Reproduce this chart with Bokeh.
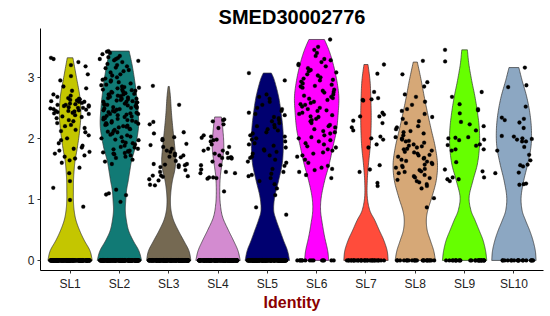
import numpy as np
from bokeh.plotting import figure
from bokeh.models import FixedTicker
from bokeh.embed import file_html
from bokeh.resources import INLINE

# ---------------- data ----------------
clusters = ["SL1", "SL2", "SL3", "SL4", "SL5", "SL6", "SL7", "SL8", "SL9", "SL10"]
fill_colors = ["#C4C600", "#117A75", "#756952", "#D38BD0", "#000070",
               "#FF00FF", "#FF4C3B", "#D6A877", "#66FF00", "#8CA7C2"]

# violin outlines: expression level (y) and relative density at that level
sl1_ylev = [0, 0.16, 0.33, 0.49, 0.66, 0.82, 0.98, 1.15, 1.31, 1.48, 1.64, 1.86, 2.13, 2.40, 2.68, 3.00, 3.32]
sl1_dens = [22, 19.7, 14, 9.5, 5.8, 4, 3.3, 3.3, 3.4, 4, 5, 7.3, 9.5, 10.7, 9.7, 6.3, 2.8]
sl2_ylev = [0, 0.16, 0.33, 0.49, 0.66, 0.82, 0.98, 1.15, 1.31, 1.48, 1.64, 1.86, 2.19, 2.51, 2.84, 3.17, 3.43]
sl2_dens = [21.7, 19, 13.3, 9, 6.8, 5.8, 6.2, 7, 8.7, 10.3, 12, 15.5, 18.7, 18, 15.8, 12.8, 9.5]
sl3_ylev = [0, 0.16, 0.33, 0.49, 0.66, 0.82, 0.98, 1.15, 1.31, 1.48, 1.64, 1.86, 2.13, 2.40, 2.68, 2.85]
sl3_dens = [22, 20, 14.7, 9.5, 4.7, 2.3, 1.7, 2.3, 3.7, 6, 7, 6, 4.3, 2.8, 1.7, 0.6]
sl4_ylev = [0, 0.16, 0.33, 0.49, 0.71, 0.93, 1.15, 1.37, 1.58, 1.80, 1.97, 2.18, 2.35]
sl4_dens = [21.7, 19.5, 15, 10.3, 4.5, 2.2, 1.7, 2.2, 3.8, 5.5, 5.5, 4.5, 3.3]
sl5_ylev = [0, 0.16, 0.33, 0.49, 0.66, 0.82, 1.04, 1.31, 1.58, 1.86, 2.13, 2.40, 2.68, 2.95, 3.07]
sl5_dens = [22, 20, 16, 12.5, 8.8, 6.3, 7.3, 11.2, 14.7, 15.8, 15.5, 13.8, 11.2, 7, 4]
sl6_ylev = [0, 0.16, 0.38, 0.60, 0.82, 1.04, 1.31, 1.58, 1.86, 2.13, 2.40, 2.68, 2.95, 3.22, 3.44, 3.62]
sl6_dens = [11.7, 10.7, 7.8, 5.5, 3.8, 4.5, 7.8, 12.2, 15.8, 19.2, 20.8, 21.5, 19.5, 16, 12, 7.5]
sl7_ylev = [0, 0.16, 0.33, 0.49, 0.66, 0.82, 1.04, 1.31, 1.58, 1.86, 2.13, 2.40, 2.68, 2.95, 3.21]
sl7_dens = [22, 21, 17.7, 13.3, 8.7, 3.8, 1.3, 1.3, 2.5, 4.2, 5, 5.2, 4.8, 4, 2]
sl8_ylev = [0, 0.16, 0.33, 0.49, 0.66, 0.82, 1.04, 1.31, 1.58, 1.86, 2.13, 2.40, 2.68, 2.95, 3.25]
sl8_dens = [19.7, 18, 14.7, 11.7, 10.8, 12.2, 16.3, 20.5, 21.7, 19.5, 15.8, 12.2, 8.8, 5.8, 2]
sl9_ylev = [0, 0.16, 0.33, 0.49, 0.66, 0.82, 1.04, 1.31, 1.58, 1.86, 2.13, 2.40, 2.68, 2.95, 3.22, 3.45]
sl9_dens = [22, 20.8, 18.3, 14.5, 10.3, 6.3, 4.5, 8.3, 12.7, 14.7, 14.7, 13, 10.3, 7, 4.2, 2.8]
sl10_ylev = [0, 0.16, 0.33, 0.49, 0.66, 0.82, 1.04, 1.31, 1.58, 1.86, 2.13, 2.40, 2.68, 2.95, 3.16]
sl10_dens = [22.5, 21.7, 19.3, 16, 11.7, 8.3, 7.3, 10, 14, 17.3, 17.8, 16.3, 13, 8.3, 5]

# non-zero expression values of individual cells
sl1_expr = [3.32, 3.30, 3.25, 3.20, 3.18, 3.05, 3.02, 2.95, 2.85, 2.82, 2.78, 2.72, 2.70, 2.68, 2.66,
            2.65, 2.64, 2.63, 2.62, 2.61, 2.60, 2.60, 2.58, 2.57, 2.56, 2.55, 2.55, 2.54, 2.53, 2.52,
            2.51, 2.50, 2.50, 2.49, 2.48, 2.47, 2.46, 2.45, 2.45, 2.44, 2.43, 2.42, 2.41, 2.40, 2.38,
            2.36, 2.35, 2.33, 2.30, 2.28, 2.25, 2.22, 2.20, 2.17, 2.14, 2.12, 2.10, 2.05, 2.00, 1.97,
            1.92, 1.88, 1.85, 1.83, 1.80, 1.78, 1.75, 1.72, 1.70, 1.67, 1.64, 1.60, 1.52, 1.43, 1.30,
            1.19, 0.99, 0.88]
sl2_expr = [3.43, 3.42, 3.40, 3.38, 3.35, 3.33, 3.32, 3.30, 3.30, 3.28, 3.27, 3.25, 3.22, 3.20, 3.18,
            3.16, 3.15, 3.12, 3.10, 3.08, 3.05, 3.03, 3.00, 2.98, 2.96, 2.95, 2.93, 2.92, 2.90, 2.88,
            2.87, 2.85, 2.84, 2.83, 2.82, 2.80, 2.80, 2.79, 2.78, 2.77, 2.76, 2.75, 2.74, 2.73, 2.72,
            2.72, 2.71, 2.70, 2.69, 2.68, 2.67, 2.66, 2.65, 2.65, 2.64, 2.63, 2.62, 2.61, 2.60, 2.60,
            2.59, 2.58, 2.57, 2.56, 2.55, 2.55, 2.54, 2.53, 2.52, 2.51, 2.50, 2.50, 2.49, 2.48, 2.47,
            2.46, 2.45, 2.44, 2.43, 2.42, 2.41, 2.40, 2.40, 2.39, 2.38, 2.37, 2.36, 2.35, 2.34, 2.33,
            2.32, 2.31, 2.30, 2.29, 2.28, 2.27, 2.26, 2.25, 2.24, 2.23, 2.22, 2.21, 2.20, 2.19, 2.18,
            2.16, 2.15, 2.14, 2.12, 2.11, 2.10, 2.08, 2.06, 2.05, 2.03, 2.02, 2.00, 1.98, 1.97, 1.95,
            1.93, 1.92, 1.90, 1.88, 1.86, 1.85, 1.83, 1.82, 1.80, 1.79, 1.78, 1.77, 1.76, 1.75, 1.74,
            1.72, 1.70, 1.68, 1.65, 1.62, 1.58, 1.16, 1.10, 1.08, 1.07, 0.96]
sl3_expr = [2.86, 2.55, 2.27, 2.23, 2.10, 2.08, 2.02, 1.99, 1.97, 1.91, 1.89, 1.86, 1.83, 1.80, 1.78,
            1.75, 1.72, 1.72, 1.70, 1.69, 1.63, 1.58, 1.57, 1.56, 1.56, 1.53, 1.53, 1.58, 1.48, 1.45,
            1.39, 1.39, 1.38, 1.37, 1.33, 1.31, 1.24, 1.23]
sl4_expr = [2.31, 2.30, 2.28, 2.23, 2.17, 2.03, 2.01, 1.98, 1.97, 1.90, 1.86, 1.83, 1.80, 1.80, 1.76,
            1.75, 1.69, 1.69, 1.68, 1.68, 1.67, 1.62, 1.56, 1.56, 1.49, 1.45, 1.43, 1.43, 1.36, 1.36,
            1.35, 1.34, 1.13, 1.72, 1.95, 2.05]
sl5_expr = [3.07, 2.95, 2.72, 2.68, 2.65, 2.60, 2.55, 2.50, 2.48, 2.45, 2.42, 2.40, 2.38, 2.35, 2.33,
            2.30, 2.28, 2.25, 2.22, 2.20, 2.18, 2.15, 2.13, 2.10, 2.08, 2.05, 2.03, 2.00, 1.98, 1.95,
            1.92, 1.90, 1.88, 1.85, 1.82, 1.80, 1.78, 1.75, 1.72, 1.70, 1.68, 1.65, 1.62, 1.60, 1.55,
            1.50, 1.45, 1.42, 1.40, 1.38, 1.35, 1.30, 1.25, 1.18, 1.07, 0.87, 0.75]
sl6_expr = [3.62, 3.50, 3.45, 3.40, 3.35, 3.30, 3.28, 3.25, 3.22, 3.20, 3.18, 3.15, 3.12, 3.10, 3.08,
            3.05, 3.03, 3.00, 2.98, 2.96, 2.95, 2.93, 2.90, 2.88, 2.86, 2.85, 2.83, 2.80, 2.78, 2.76,
            2.75, 2.72, 2.70, 2.68, 2.66, 2.65, 2.63, 2.60, 2.58, 2.56, 2.55, 2.52, 2.50, 2.48, 2.46,
            2.45, 2.42, 2.40, 2.38, 2.36, 2.35, 2.32, 2.30, 2.28, 2.25, 2.22, 2.20, 2.18, 2.15, 2.12,
            2.10, 2.08, 2.05, 2.02, 2.00, 1.97, 1.95, 1.92, 1.90, 1.87, 1.85, 1.82, 1.80, 1.77, 1.75,
            1.72, 1.70, 1.65, 1.60, 1.55, 1.52, 1.50, 1.48, 1.45, 1.40, 1.35]
sl7_expr = [3.21, 3.06, 2.76, 2.66, 2.64, 2.63, 2.62, 2.42, 2.39, 2.36, 2.36, 2.29, 2.25, 2.18, 2.13,
            2.03, 2.00, 1.98, 1.90, 1.85, 1.56, 1.49, 1.45, 1.27, 1.22]
sl8_expr = [3.27, 3.05, 2.92, 2.85, 2.72, 2.68, 2.60, 2.55, 2.48, 2.45, 2.40, 2.35, 2.32, 2.28, 2.25,
            2.20, 2.18, 2.15, 2.12, 2.10, 2.08, 2.05, 2.02, 2.00, 1.98, 1.96, 1.95, 1.93, 1.90, 1.88,
            1.87, 1.85, 1.83, 1.82, 1.80, 1.78, 1.77, 1.75, 1.73, 1.72, 1.70, 1.68, 1.67, 1.65, 1.63,
            1.62, 1.60, 1.58, 1.57, 1.55, 1.53, 1.52, 1.50, 1.48, 1.46, 1.45, 1.43, 1.40, 1.38, 1.36,
            1.35, 1.32, 1.30, 1.28, 1.25, 1.22, 1.18, 1.02, 0.87]
sl9_expr = [3.45, 3.26, 2.76, 2.68, 2.56, 2.48, 2.46, 2.41, 2.27, 2.23, 2.20, 2.13, 2.02, 2.01, 2.00,
            1.98, 1.97, 1.90, 1.89, 1.88, 1.82, 1.82, 1.80, 1.61, 1.49, 1.46, 1.36, 1.36, 1.33, 1.33,
            1.30]
sl10_expr = [3.16, 2.87, 2.84, 2.52, 2.34, 2.32, 2.30, 2.26, 2.17, 2.04, 2.03, 2.00, 1.99, 1.98, 1.95,
             1.95, 1.86, 1.80, 1.73, 1.64, 1.57, 1.56, 1.54, 1.44, 1.43, 1.26, 1.25, 1.24]

# number of cells with zero expression per cluster
zero_counts = [150, 150, 150, 150, 150, 14, 30, 22, 25, 18]

y_ticks = [0, 1, 2, 3]

ylevs = [sl1_ylev, sl2_ylev, sl3_ylev, sl4_ylev, sl5_ylev, sl6_ylev, sl7_ylev, sl8_ylev, sl9_ylev, sl10_ylev]
denss = [sl1_dens, sl2_dens, sl3_dens, sl4_dens, sl5_dens, sl6_dens, sl7_dens, sl8_dens, sl9_dens, sl10_dens]
exprs = [sl1_expr, sl2_expr, sl3_expr, sl4_expr, sl5_expr, sl6_expr, sl7_expr, sl8_expr, sl9_expr, sl10_expr]

FONT = "Liberation Sans"


def catmull(pts, n=10):
    pts = np.asarray(pts, dtype=float)
    P = np.vstack([pts[0], pts, pts[-1]])
    out = []
    for i in range(1, len(P) - 2):
        p0, p1, p2, p3 = P[i - 1], P[i], P[i + 1], P[i + 2]
        for t in np.linspace(0, 1, n, endpoint=False):
            t2, t3 = t * t, t * t * t
            out.append(0.5 * ((2 * p1) + (-p0 + p2) * t + (2 * p0 - 5 * p1 + 4 * p2 - p3) * t2
                              + (-p0 + 3 * p1 - 3 * p2 + p3) * t3))
    out.append(P[-2])
    return np.array(out)


def spread(n, k):
    # deterministic, irregular-looking horizontal offsets in [-0.5, 0.5)
    i = np.arange(n) + 1.0 + 97.0 * k
    h = np.sin(i * 12.9898 + k * 78.233) * 43758.5453
    return h - np.floor(h) - 0.5


p = figure(width=550, height=316, x_range=(0.4, 10.6), y_range=(-0.165, 3.80),
           output_backend="svg", toolbar_location=None,
           min_border_left=40, min_border_right=7, min_border_top=28, min_border_bottom=46)

p.title.text = "SMED30002776"
p.title.align = "center"
p.title.text_font = FONT
p.title.text_font_size = "20px"
p.title.text_font_style = "bold"
p.title.text_color = "black"
p.title.standoff = 2

for k, (name, col) in enumerate(zip(clusters, fill_colors)):
    cx = k + 1
    d = np.asarray(denss[k], dtype=float)
    half = d / d.max() * 0.45
    sm = catmull(np.column_stack([ylevs[k], half]))
    yy = sm[:, 0]
    ww = np.clip(sm[:, 1], 0, None)
    xs = np.concatenate([cx + ww, (cx - ww)[::-1]])
    ys = np.concatenate([yy, yy[::-1]])
    p.patch(xs, ys, fill_color=col, line_color="#333333", line_width=0.7)

for k, name in enumerate(clusters):
    cx = k + 1
    vals = [0.0] * zero_counts[k] + list(exprs[k])
    jit = spread(len(vals), k) * 0.8
    p.scatter(cx + jit, vals, size=3.8, fill_color="black", line_color="black", line_width=0.3)

p.xgrid.visible = False
p.ygrid.visible = False
p.outline_line_color = None
p.background_fill_color = "white"
p.border_fill_color = "white"

p.xaxis.ticker = FixedTicker(ticks=list(range(1, 11)))
p.xaxis.major_label_overrides = {i + 1: c for i, c in enumerate(clusters)}
p.yaxis.ticker = FixedTicker(ticks=y_ticks)

for ax in (p.xaxis[0], p.yaxis[0]):
    ax.minor_tick_line_color = None
    ax.major_tick_in = 0
    ax.major_tick_out = 3
    ax.major_tick_line_color = "#333333"
    ax.axis_line_color = "black"
    ax.axis_line_width = 1
    ax.major_label_text_font = FONT
    ax.major_label_text_font_size = "12px"
    ax.major_label_text_color = "#222222"
    ax.major_label_standoff = 3

p.xaxis.axis_label = "Identity"
p.xaxis.axis_label_text_font = FONT
p.xaxis.axis_label_text_font_size = "16px"
p.xaxis.axis_label_text_font_style = "bold"
p.xaxis.axis_label_text_color = "#8B0000"
p.xaxis.axis_label_standoff = 0

open("out.html", "w").write(file_html(p, INLINE))
